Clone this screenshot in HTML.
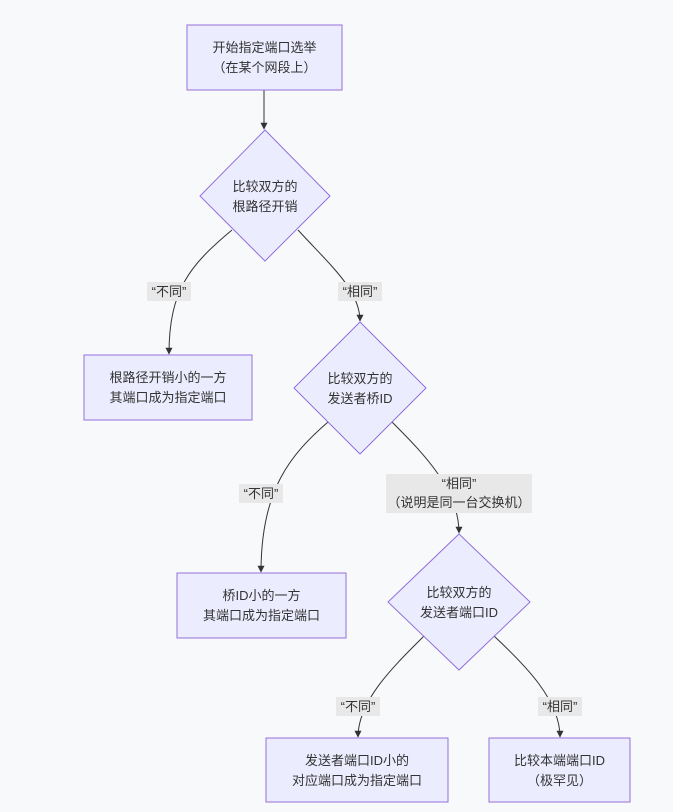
<!DOCTYPE html>
<html><head><meta charset="utf-8"><style>
html,body{margin:0;padding:0;background:#f8f9fb;}
svg{display:block;font-family:"Liberation Sans","Noto Sans CJK SC",sans-serif;}
.n{fill:#ECECFF;stroke:#9370DB;stroke-width:1;}
.t{font-size:13px;fill:#333;text-anchor:middle;}
.e{fill:none;stroke:#333;stroke-width:1;}
.lb{fill:#e8e8e8;}
</style></head><body>
<svg width="673" height="812" viewBox="0 0 673 812">
<defs><marker id="a" viewBox="0 0 10 10" refX="9" refY="5" markerWidth="7" markerHeight="7" orient="auto"><path d="M0,0L10,5L0,10z" fill="#333"/></marker></defs>
<!-- edges -->
<path class="e" d="M264,90 L264,129" marker-end="url(#a)"/>
<path class="e" d="M232,230 C190,265 169,290 169,354" marker-end="url(#a)"/>
<path class="e" d="M298,230 C330,265 360,290 360,321" marker-end="url(#a)"/>
<path class="e" d="M328,422 C290,455 261,490 261,572" marker-end="url(#a)"/>
<path class="e" d="M392,422 C425,455 459,490 459,533" marker-end="url(#a)"/>
<path class="e" d="M424,636 C395,665 358,700 358,737" marker-end="url(#a)"/>
<path class="e" d="M494,636 C525,665 560,700 560,737" marker-end="url(#a)"/>
<!-- nodes -->
<rect class="n" x="187" y="25" width="155" height="65"/>
<text class="t" x="264.5" y="52">开始指定端口选举</text>
<text class="t" x="264.5" y="72">（在某个网段上）</text>
<polygon class="n" points="265,130 330,196 265,261 200,196"/>
<text class="t" x="265" y="191">比较双方的</text>
<text class="t" x="265" y="211">根路径开销</text>
<rect class="n" x="84" y="355" width="168" height="65"/>
<text class="t" x="168" y="382">根路径开销小的一方</text>
<text class="t" x="168" y="402">其端口成为指定端口</text>
<polygon class="n" points="360,322 426,388 360,454 294,388"/>
<text class="t" x="360" y="383">比较双方的</text>
<text class="t" x="360" y="403">发送者桥ID</text>
<rect class="n" x="177" y="573" width="169" height="65"/>
<text class="t" x="261.5" y="600">桥ID小的一方</text>
<text class="t" x="261.5" y="620">其端口成为指定端口</text>
<polygon class="n" points="459,534 530,602 459,670 388,602"/>
<text class="t" x="459" y="597">比较双方的</text>
<text class="t" x="459" y="617">发送者端口ID</text>
<rect class="n" x="266" y="738" width="182" height="64"/>
<text class="t" x="357" y="765">发送者端口ID小的</text>
<text class="t" x="357" y="785">对应端口成为指定端口</text>
<rect class="n" x="489" y="738" width="141" height="64"/>
<text class="t" x="559.5" y="765">比较本端端口ID</text>
<text class="t" x="559.5" y="785">（极罕见）</text>
<!-- labels -->
<rect class="lb" x="147" y="282" width="44" height="19"/>
<text class="t" x="169" y="296">“不同”</text>
<rect class="lb" x="338" y="282" width="44" height="19"/>
<text class="t" x="360" y="296">“相同”</text>
<rect class="lb" x="239" y="484" width="44" height="19"/>
<text class="t" x="261" y="498">“不同”</text>
<rect class="lb" x="386" y="474" width="146" height="39"/>
<text class="t" x="459" y="488">“相同”</text>
<text class="t" x="459" y="507">（说明是同一台交换机）</text>
<rect class="lb" x="336" y="697" width="44" height="19"/>
<text class="t" x="358" y="711">“不同”</text>
<rect class="lb" x="538" y="697" width="44" height="19"/>
<text class="t" x="560" y="711">“相同”</text>
</svg>
</body></html>
